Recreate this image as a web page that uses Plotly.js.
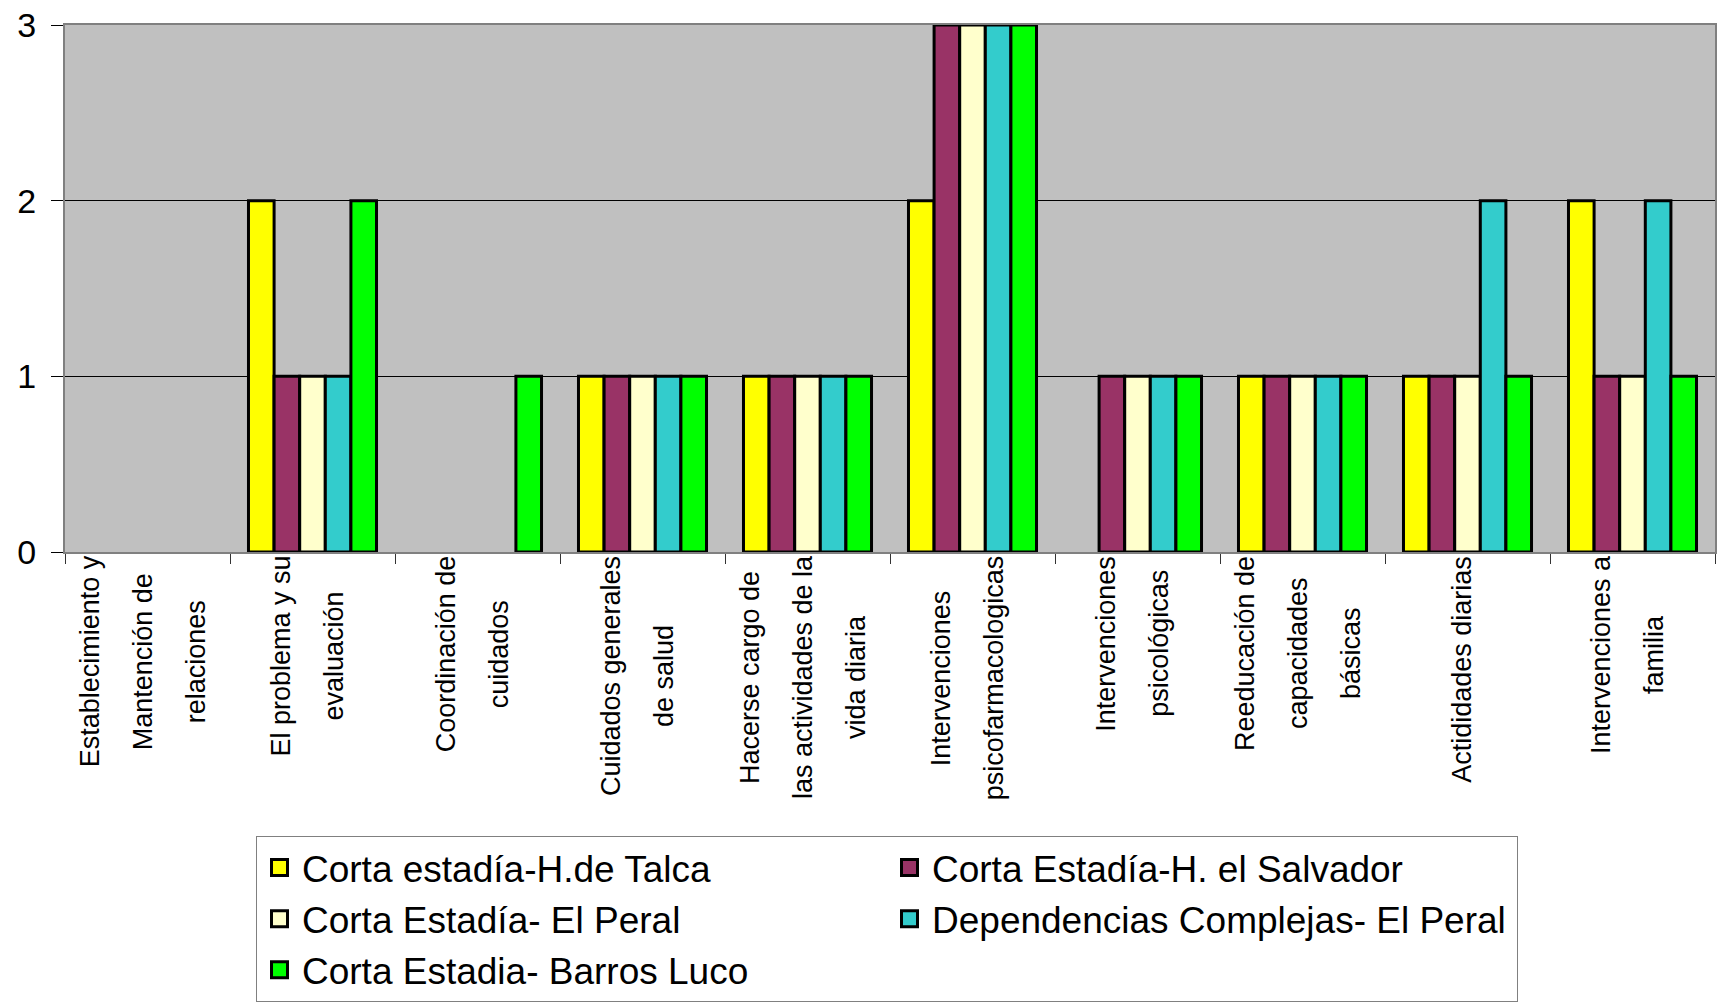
<!DOCTYPE html>
<html><head><meta charset="utf-8">
<script src="https://cdn.plot.ly/plotly-3.0.1.min.js"></script>
<style>html,body{margin:0;padding:0;background:#fff;} #chart{width:1718px;height:1005px;}</style>
</head><body><div id="chart"></div>
<script>
// ---- data ----
const categories = [
  "Establecimiento y<br>Mantención de<br>relaciones",
  "El problema y su<br>evaluación",
  "Coordinación de<br>cuidados",
  "Cuidados generales<br>de salud",
  "Hacerse cargo de<br>las actividades de la<br>vida diaria",
  "Intervenciones<br>psicofarmacologicas",
  "Intervenciones<br>psicológicas",
  "Reeducación de<br>capacidades<br>básicas",
  "Actididades diarias",
  "Intervenciones a<br>familia"
];
const seriesNames = [
  "Corta estadía-H.de Talca",
  "Corta Estadía-H. el Salvador",
  "Corta Estadía- El Peral",
  "Dependencias Complejas- El Peral",
  "Corta Estadia- Barros Luco"
];
const talca      = [0, 2, 0, 1, 1, 2, 0, 1, 1, 2];
const salvador   = [0, 1, 0, 1, 1, 3, 1, 1, 1, 1];
const peral      = [0, 1, 0, 1, 1, 3, 1, 1, 1, 1];
const complejas  = [0, 1, 0, 1, 1, 3, 1, 1, 2, 2];
const barrosLuco = [0, 2, 1, 1, 1, 3, 1, 1, 1, 1];
const yTickVals  = [0, 1, 2, 3];
const yTickText  = ["0", "1", "2", "3"];

// ---- styles ----
const seriesValues = [talca, salvador, peral, complejas, barrosLuco];
const seriesColors = ["#FFFF00", "#993366", "#FFFFCC", "#33CCCC", "#00FF00"];
const FONT = "'Liberation Sans', Arial, sans-serif";
const W = 1718, H = 1005;
const M = {l: 65, r: 3, t: 25, b: 453};
const plotH = H - M.t - M.b;

const traces = [];
seriesValues.forEach((vals, i) => {
  traces.push({
    type: "bar", name: seriesNames[i], x: categories, y: vals,
    marker: {color: seriesColors[i], line: {color: "#000", width: vals.map(v => v === 0 ? 0 : 3)}},
    showlegend: false, hoverinfo: "x+y+name"
  });
});
// legend-only entries (larger square symbols)
seriesValues.forEach((vals, i) => {
  traces.push({
    type: "scatter", mode: "markers", name: seriesNames[i], x: [null], y: [null],
    marker: {symbol: "square", size: 16, color: seriesColors[i], line: {color: "#000", width: 3}},
    showlegend: true, hoverinfo: "skip"
  });
});

// category labels: one annotation per line, rotated
const canvas = document.createElement("canvas");
const ctx = canvas.getContext("2d");
const LBL = 27;
ctx.font = LBL + "px 'Liberation Sans'";
const LINE_GAP = 53;
const annotations = [];
categories.forEach(cat => {
  const lines = cat.split("<br>");
  const maxW = Math.max(...lines.map(s => ctx.measureText(s).width));
  const yc = 556 + maxW / 2;              // pixel centre of the block
  const yPaper = (H - M.b - yc) / plotH;
  lines.forEach((ln, k) => {
    annotations.push({
      x: cat, xref: "x", y: yPaper, yref: "paper",
      text: ln, showarrow: false, textangle: -90,
      xanchor: "center", yanchor: "middle",
      xshift: (k - (lines.length - 1) / 2) * LINE_GAP - 5,
      font: {family: FONT, size: LBL, color: "#000"}
    });
  });
});

const layout = {
  width: W, height: H,
  margin: M,
  paper_bgcolor: "#fff", plot_bgcolor: "#C0C0C0",
  font: {family: FONT, color: "#000"},
  barmode: "group", bargap: 0.224, bargroupgap: 0,
  showlegend: true,
  xaxis: {
    type: "category", showticklabels: false, showgrid: false,
    ticks: "outside", tickson: "boundaries", ticklen: 10, tickcolor: "#333", tickwidth: 1,
    showline: true, linecolor: "#808080", linewidth: 2, mirror: true, fixedrange: true
  },
  yaxis: {
    range: [0, 3], tickvals: yTickVals, ticktext: yTickText,
    tickfont: {family: FONT, size: 34, color: "#000"},
    ticks: "outside", ticklen: 12, tickcolor: "#000", tickwidth: 1, ticklabelstandoff: 8,
    showgrid: true, gridcolor: "#000", gridwidth: 1, zeroline: false,
    showline: true, linecolor: "#808080", linewidth: 2, mirror: true, fixedrange: true
  },
  legend: {
    orientation: "h", x: (256 - M.l) / (W - M.l - M.r), xanchor: "left",
    y: (H - M.b - 836) / plotH, yanchor: "top",
    entrywidth: 580, entrywidthmode: "pixels",
    bgcolor: "#fff", bordercolor: "#808080", borderwidth: 1,
    font: {family: FONT, size: 37, color: "#000"},
    itemwidth: 35, traceorder: "normal"
  },
  annotations: annotations
};

Plotly.newPlot("chart", traces, layout, {displayModeBar: false, staticPlot: true});
</script>
</body></html>
